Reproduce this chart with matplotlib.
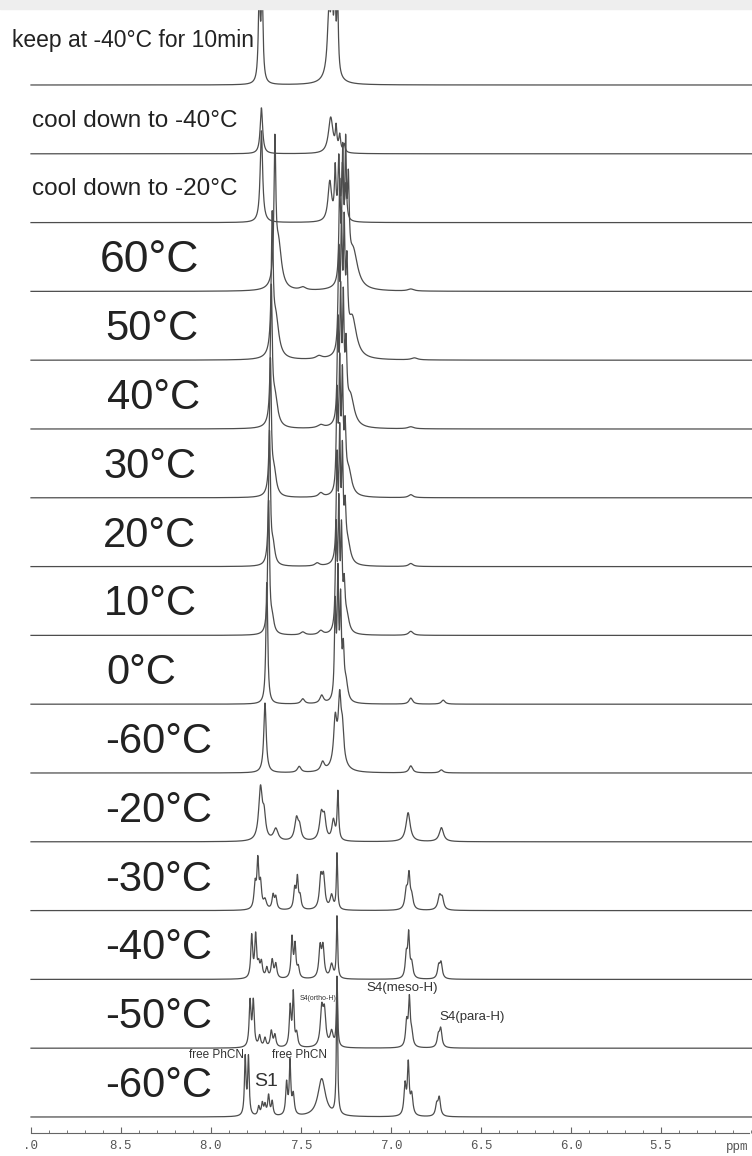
import matplotlib

matplotlib.use("Agg")

import matplotlib.pyplot as plt
import numpy as np
from matplotlib.patches import Rectangle
from matplotlib.ticker import FixedLocator

# stacked 1H NMR spectra, listed top to bottom
trace_labels = [
    "keep at -40°C for 10min", "cool down to -40°C", "cool down to -20°C",
    "60°C", "50°C", "40°C", "30°C", "20°C", "10°C", "0°C",
    "-60°C", "-20°C", "-30°C", "-40°C", "-50°C", "-60°C",
]

# peak tables: (shift in ppm, height, half width in ppm)
keep_40_10min = [(7.732, 88, 0.006), (7.716, 88, 0.006), (7.345, 55, 0.010),
                 (7.328, 70, 0.005), (7.312, 75, 0.005), (7.297, 75, 0.005), (7.33, 20, 0.03)]
cool_40 = [(7.72, 46, 0.008), (7.335, 36, 0.015), (7.305, 22, 0.005),
           (7.285, 16, 0.006), (7.26, 8, 0.006)]
cool_20 = [(7.72, 92, 0.008), (7.34, 40, 0.012), (7.31, 50, 0.005), (7.29, 60, 0.005),
           (7.27, 52, 0.005), (7.25, 35, 0.006)]
t_60 = [(7.645, 135, 0.006), (7.625, 45, 0.02), (7.285, 95, 0.005), (7.268, 120, 0.005),
        (7.252, 120, 0.005), (7.237, 85, 0.006), (7.21, 38, 0.03), (7.49, 3, 0.02), (6.89, 2, 0.02)]
t_50 = [(7.66, 130, 0.006), (7.64, 40, 0.02), (7.29, 95, 0.005), (7.275, 120, 0.005),
        (7.26, 112, 0.005), (7.245, 75, 0.006), (7.215, 40, 0.028), (7.40, 3, 0.02), (6.87, 2, 0.02)]
t_40 = [(7.665, 132, 0.006), (7.645, 30, 0.018), (7.295, 95, 0.005), (7.28, 120, 0.005),
        (7.265, 110, 0.005), (7.25, 65, 0.006), (7.225, 30, 0.025), (7.39, 3, 0.02), (6.89, 2, 0.02)]
t_30 = [(7.67, 132, 0.006), (7.65, 24, 0.015), (7.30, 95, 0.005), (7.285, 120, 0.005),
        (7.27, 105, 0.005), (7.255, 55, 0.006), (7.235, 24, 0.02), (7.39, 4, 0.015), (6.89, 3, 0.015)]
t_20 = [(7.675, 132, 0.006), (7.655, 18, 0.012), (7.30, 100, 0.005), (7.285, 120, 0.005),
        (7.27, 100, 0.005), (7.255, 45, 0.006), (7.24, 20, 0.018), (7.41, 3, 0.015), (6.89, 3, 0.015)]
t_10 = [(7.68, 132, 0.006), (7.66, 14, 0.012), (7.305, 100, 0.005), (7.29, 120, 0.005),
        (7.275, 92, 0.005), (7.26, 40, 0.006), (7.245, 16, 0.015), (7.49, 3, 0.015),
        (7.39, 4, 0.015), (6.89, 4, 0.015)]
t_0 = [(7.69, 122, 0.006), (7.49, 5, 0.012), (7.385, 8, 0.012), (7.31, 92, 0.005),
       (7.295, 120, 0.005), (7.28, 92, 0.005), (7.265, 45, 0.006), (7.25, 18, 0.012),
       (6.89, 6, 0.012), (6.71, 4, 0.012)]
t_m60_rerun = [(7.70, 70, 0.008), (7.51, 6, 0.012), (7.38, 9, 0.012), (7.31, 42, 0.010),
               (7.285, 55, 0.009), (7.27, 30, 0.009), (7.29, 15, 0.03), (6.89, 7, 0.012),
               (6.72, 3, 0.012)]
t_m20 = [(7.725, 52, 0.012), (7.705, 22, 0.01), (7.64, 12, 0.015), (7.525, 22, 0.012),
         (7.508, 12, 0.01), (7.387, 26, 0.012), (7.37, 20, 0.01), (7.32, 20, 0.01),
         (7.295, 48, 0.005), (6.905, 29, 0.014), (6.72, 14, 0.014)]
t_m30 = [(7.755, 24, 0.007), (7.74, 46, 0.006), (7.725, 24, 0.007), (7.70, 9, 0.01),
         (7.655, 14, 0.007), (7.64, 12, 0.007), (7.535, 20, 0.007), (7.52, 30, 0.006),
         (7.505, 12, 0.007), (7.39, 30, 0.009), (7.375, 30, 0.009), (7.33, 14, 0.01),
         (7.30, 56, 0.004), (6.915, 18, 0.009), (6.90, 32, 0.007), (6.885, 12, 0.009),
         (6.73, 14, 0.011), (6.715, 10, 0.009)]
t_m40 = [(7.774, 42, 0.006), (7.752, 42, 0.006), (7.735, 12, 0.007), (7.72, 15, 0.007),
         (7.69, 10, 0.007), (7.66, 18, 0.007), (7.64, 14, 0.007), (7.55, 40, 0.006),
         (7.533, 32, 0.006), (7.515, 10, 0.007), (7.394, 30, 0.008), (7.378, 30, 0.008),
         (7.33, 14, 0.01), (7.30, 62, 0.004), (6.915, 22, 0.007), (6.902, 42, 0.006),
         (6.885, 14, 0.008), (6.735, 12, 0.008), (6.722, 15, 0.008)]
t_m50 = [(7.783, 45, 0.006), (7.765, 45, 0.006), (7.73, 11, 0.007), (7.70, 9, 0.007),
         (7.665, 16, 0.007), (7.645, 12, 0.007), (7.56, 40, 0.006), (7.543, 52, 0.005),
         (7.524, 13, 0.007), (7.385, 36, 0.009), (7.37, 33, 0.009), (7.33, 15, 0.01),
         (7.30, 70, 0.004), (6.913, 24, 0.007), (6.898, 46, 0.006), (6.885, 12, 0.008),
         (6.737, 11, 0.008), (6.724, 18, 0.008)]
t_m60 = [(7.81, 58, 0.005), (7.792, 58, 0.005), (7.735, 9, 0.006), (7.715, 12, 0.006),
         (7.70, 10, 0.006), (7.68, 20, 0.006), (7.66, 14, 0.006), (7.58, 32, 0.006),
         (7.561, 52, 0.005), (7.543, 20, 0.007), (7.385, 38, 0.025), (7.30, 135, 0.004),
         (6.922, 30, 0.007), (6.904, 50, 0.006), (6.885, 20, 0.008), (6.746, 11, 0.008),
         (6.732, 18, 0.008)]

spectra = [keep_40_10min, cool_40, cool_20, t_60, t_50, t_40, t_30, t_20, t_10, t_0,
           t_m60_rerun, t_m20, t_m30, t_m40, t_m50, t_m60]

tick_major = [9.0, 8.5, 8.0, 7.5, 7.0, 6.5, 6.0, 5.5]
tick_text = [".0", "8.5", "8.0", "7.5", "7.0", "6.5", "6.0", "5.5"]
tick_minor = [round(9.0 - 0.1 * k, 1) for k in range(41)]

annotations = [
    ("free PhCN", 7.815, 15, 62, 8.5, "right"),
    ("free PhCN", 7.51, 15, 62, 8.5, "center"),
    ("S1", 7.694, 15, 35, 14, "center"),
    ("S4(ortho-H)", 7.406, 14, 50, 5, "center"),
    ("S4(meso-H)", 6.94, 14, 60, 9.5, "center"),
    ("S4(para-H)", 6.55, 14, 31, 9.5, "center"),
]

W, H = 752, 1156
step = 68.8          # vertical offset between traces (pixels)
n = len(spectra)
bottom_base = 1117   # pixel row of lowest baseline

ppm = np.linspace(9.0, 4.99, 4000)


def lineshape(peaks):
    y = np.zeros_like(ppm)
    for pos, h, w in peaks:
        y += h / (1.0 + ((ppm - pos) / w) ** 2)
    return y


fig = plt.figure(figsize=(W / 100, H / 100), dpi=100)
ax = fig.add_axes([0, 0, 1, 1])
ax.set_xlim(9.0 + 31 / 180, 9.0 - 721 / 180)
ax.set_ylim(bottom_base - H, bottom_base)

for i, peaks in enumerate(spectra):
    base = (n - 1 - i) * step
    ax.plot(ppm, base + lineshape(peaks), color="#4d4d4d", lw=0.9, solid_joinstyle="round")

# trace labels on the left
label_left = [9.106, 8.994, 8.994] + [8.617, 8.59, 8.58, 8.60, 8.60, 8.595, 8.58,
                                       8.59, 8.59, 8.59, 8.59, 8.59, 8.59]
label_rise = [44, 33, 34] + [31] * 13
label_size = [16.5, 17.5, 17.5] + [32] + [30] * 12
for i, text in enumerate(trace_labels):
    base = (n - 1 - i) * step
    ax.text(label_left[i], base + label_rise[i], text, ha="left", va="center",
            fontsize=label_size[i], family="Liberation Sans", color="#222222")

for text, x, row, rise, size, ha in annotations:
    base = (n - 1 - row) * step
    ax.text(x, base + rise, text, ha=ha, va="center", fontsize=size,
            family="Liberation Sans", color="#333333")

# ppm axis
for side in ["top", "right", "left"]:
    ax.spines[side].set_visible(False)
ax.spines["bottom"].set_position(("data", -16))
ax.spines["bottom"].set_bounds(9.0, 9.0 - 718 / 180)
ax.spines["bottom"].set_color("#666666")
ax.spines["bottom"].set_linewidth(0.8)
ax.xaxis.set_major_locator(FixedLocator(tick_major))
ax.set_xticklabels(tick_text, family="Liberation Mono", fontsize=9, color="#555555")
ax.xaxis.set_minor_locator(FixedLocator(tick_minor))
ax.tick_params(axis="x", which="major", direction="in", length=4, width=0.8,
               color="#666666", pad=5)
ax.tick_params(axis="x", which="minor", direction="in", length=2.5, width=0.7,
               color="#777777")
ax.set_yticks([])
ax.text(0.995, -30, "ppm", transform=ax.get_yaxis_transform(), ha="right", va="center",
        family="Liberation Mono", fontsize=9, color="#555555")

# grey band along the top edge
fig.add_artist(Rectangle((0, 1 - 9 / H), 1, 9 / H, transform=fig.transFigure,
                         color="#eeeeee", zorder=10))

fig.savefig("out.png", dpi=100)
